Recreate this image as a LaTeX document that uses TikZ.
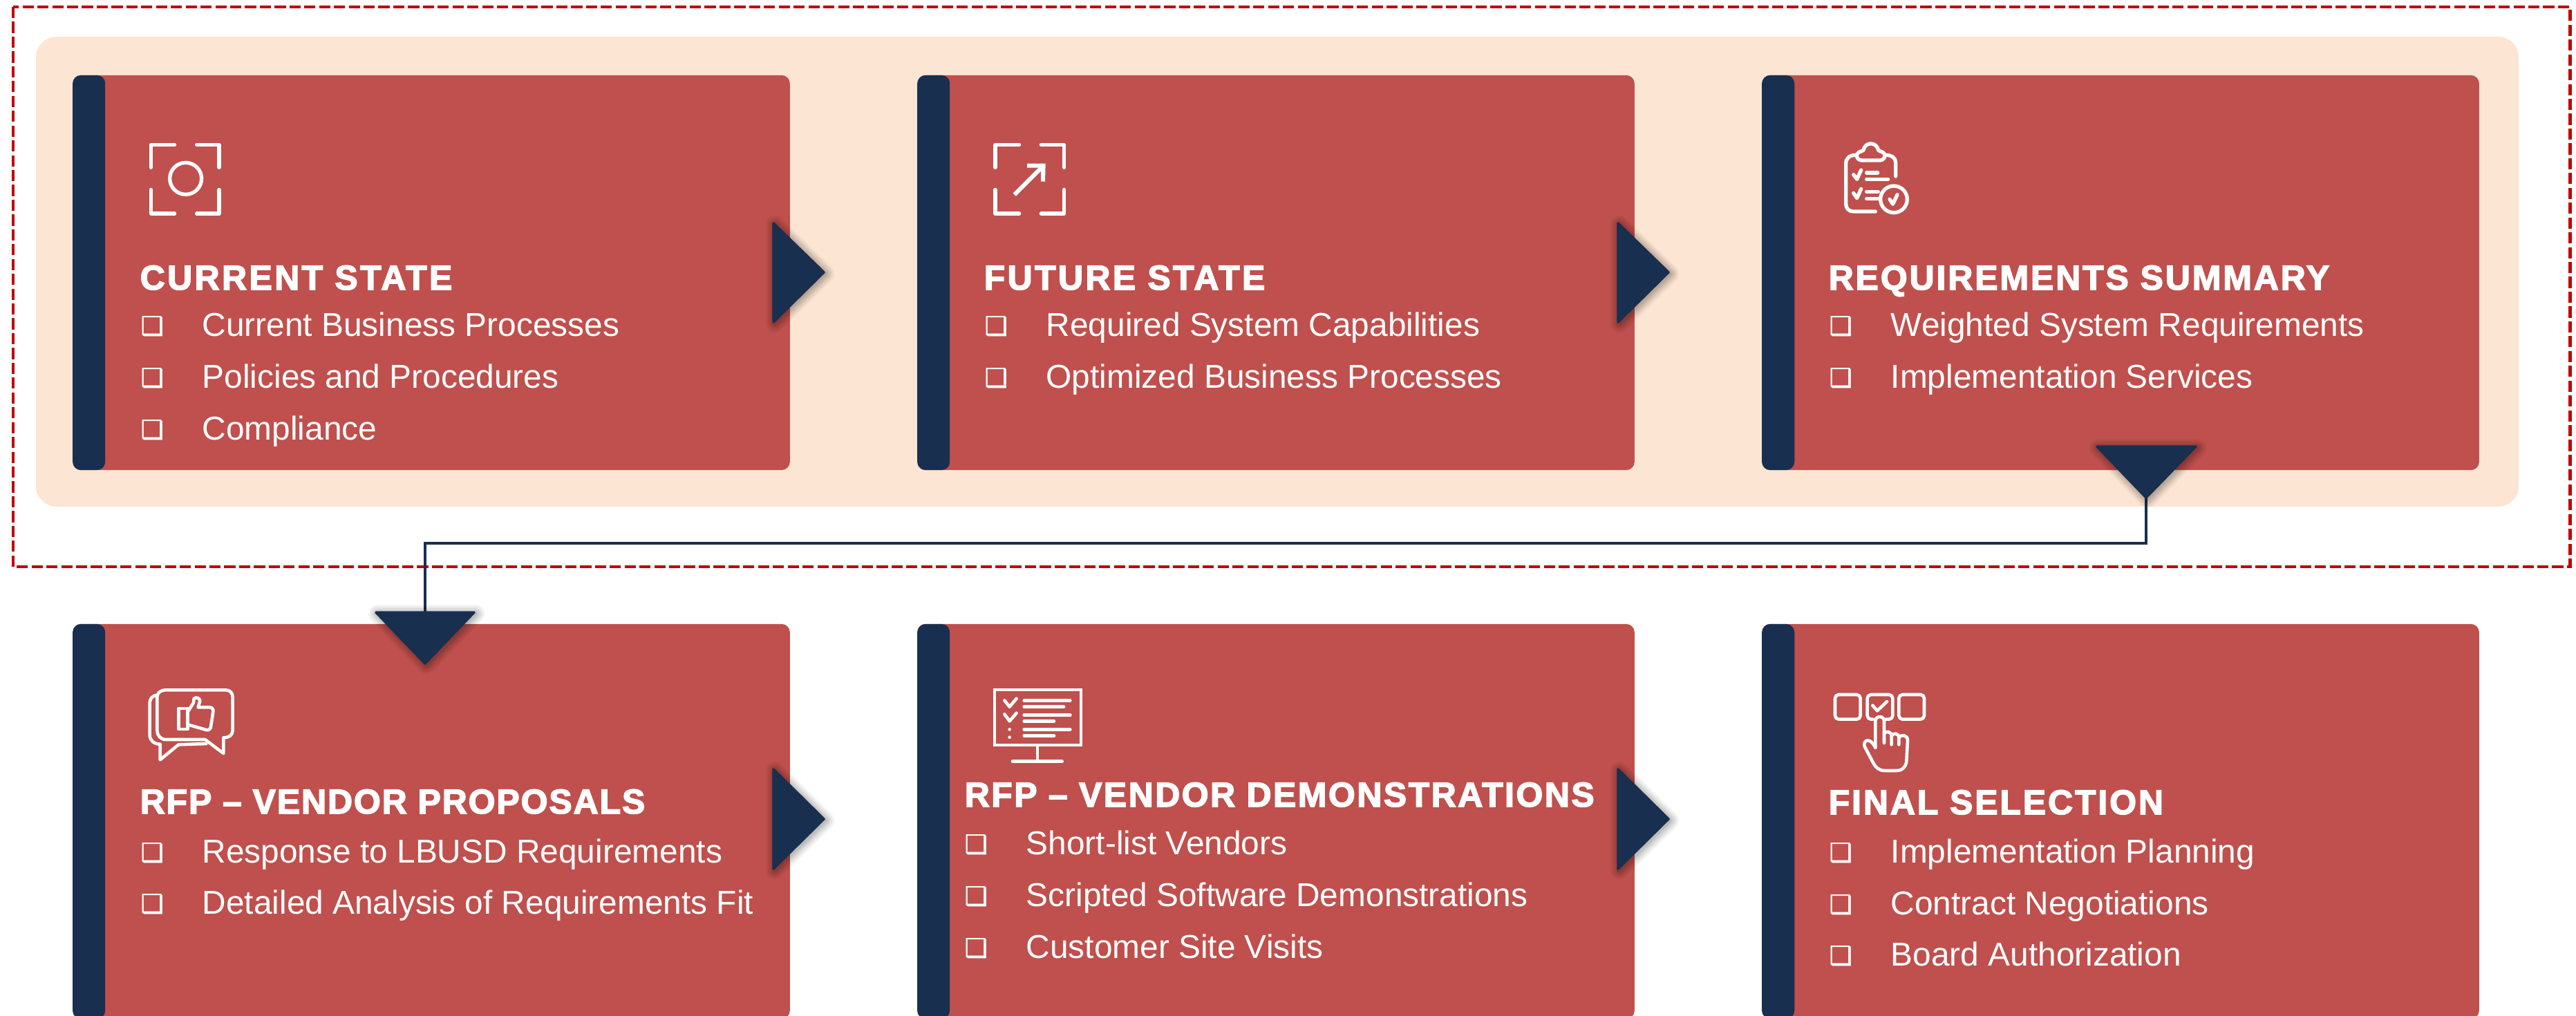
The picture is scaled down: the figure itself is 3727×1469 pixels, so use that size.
\documentclass[tikz,border=0pt]{standalone}
\usepackage{fontspec}
\usepackage{xcolor}
\usepackage{tikz}
\usetikzlibrary{calc,positioning}
\setmainfont{Liberation Sans}
\newfontfamily\headfont[FakeBold=3,LetterSpace=5.8]{Liberation Sans Bold}
\newfontfamily\headtight[FakeBold=3,LetterSpace=3.8]{Liberation Sans Bold}
\newfontfamily\headmid[FakeBold=3,LetterSpace=5]{Liberation Sans Bold}
\newfontfamily\headwide[FakeBold=3,LetterSpace=6.8]{Liberation Sans Bold}
\newfontfamily\markfont[FakeBold=1.2]{DejaVu Sans}
\definecolor{cardred}{HTML}{BF504D}
\definecolor{navy}{HTML}{182F4F}
\definecolor{peach}{HTML}{FDE5D3}
\definecolor{dashred}{HTML}{C00000}
\newcommand{\boxmark}{\makebox[0.89cm][l]{\raisebox{.5pt}{\markfont\fontsize{10.5}{12}\selectfont ❑}}}
\tikzset{
	card/.style={fill=cardred,rounded corners=3.4pt,minimum width=10.37cm,minimum height=5.71cm,inner sep=0,
		path picture={\fill[navy] (path picture bounding box.south west) rectangle ([xshift=0.47cm]path picture bounding box.north west);}},
	headtext/.style={anchor=base west,inner sep=0,text=white,font=#1\fontsize{14.2}{16}\selectfont},
	headtext/.default=\headfont,
	itemtext/.style={anchor=base west,inner sep=0,text=white,font=\fontsize{13.6}{16}\selectfont},
	softshade/.style={
		preaction={draw=black,opacity=.04,line join=round,line width=7.5pt,transform canvas={shift={(.6pt,-.6pt)}}},
		preaction={draw=black,opacity=.05,line join=round,line width=6pt,transform canvas={shift={(.6pt,-.6pt)}}},
		preaction={draw=black,opacity=.06,line join=round,line width=4.5pt,transform canvas={shift={(.6pt,-.6pt)}}},
		preaction={draw=black,opacity=.07,line join=round,line width=3pt,transform canvas={shift={(.6pt,-.6pt)}}},
		preaction={draw=black,opacity=.08,line join=round,line width=1.5pt,transform canvas={shift={(.6pt,-.6pt)}}}},
	pointer/.style={softshade,fill=navy,draw=navy,line width=1pt,line join=round},
	link/.style={draw=navy,line width=.95pt},
	iconline/.style={draw=white,line width=1.5pt,line cap=round,line join=round},
	iconthin/.style={draw=white,line width=1.3pt,line cap=round,line join=round},
	icon/.style={shift={#1},scale=0.3333}
}

\begin{document}
\begin{tikzpicture}[x=0.01cm,y=-0.01cm]
	\clip (0,0) rectangle (3727,1469);
	
	% backgrounds
	\fill[peach] (52,53) [rounded corners=8.5pt] rectangle (3644,733);
	\draw[dashred,line width=1.4pt,dash pattern=on 4.6pt off 1.5pt] (19,10) rectangle (3718,820);
	
	% top row
	\node (current) [card] at (624,394.5) {};
	\node (future) [card] at (1846,394.5) {};
	\node (reqs) [card] at (3068,394.5) {};
	
	% bottom row
	\node (proposals) [card] at (624,1188.5) {};
	\node (demos) [card] at (1846,1188.5) {};
	\node (selection) [card] at (3068,1188.5) {};
	
	\node (currenthead) [headtext=\headwide] at (202,419) {CURRENT STATE};
	\node (current1) [itemtext] at (203,486) {\boxmark Current Business Processes};
	\node (current2) [itemtext] at (203,561) {\boxmark Policies and Procedures};
	\node (current3) [itemtext] at (203,636) {\boxmark Compliance};
	
	\node (futurehead) [headtext=\headwide] at (1423,419) {FUTURE STATE};
	\node (future1) [itemtext] at (1424,486) {\boxmark Required System Capabilities};
	\node (future2) [itemtext] at (1424,561) {\boxmark Optimized Business Processes};
	
	\node (reqshead) [headtext] at (2645,419) {REQUIREMENTS SUMMARY};
	\node (reqs1) [itemtext] at (2646,486) {\boxmark Weighted System Requirements};
	\node (reqs2) [itemtext] at (2646,561) {\boxmark Implementation Services};
	
	\node (proposalshead) [headtext=\headtight] at (202,1177) {RFP – VENDOR PROPOSALS};
	\node (proposals1) [itemtext] at (203,1248) {\boxmark Response to LBUSD Requirements};
	\node (proposals2) [itemtext] at (203,1322) {\boxmark Detailed Analysis of Requirements Fit};
	
	\node (demoshead) [headtext=\headmid] at (1395,1167) {RFP – VENDOR DEMONSTRATIONS};
	\node (demos1) [itemtext] at (1395,1236) {\boxmark Short-list Vendors};
	\node (demos2) [itemtext] at (1395,1311) {\boxmark Scripted Software Demonstrations};
	\node (demos3) [itemtext] at (1395,1386) {\boxmark Customer Site Visits};
	
	\node (selectionhead) [headtext] at (2645,1178) {FINAL SELECTION};
	\node (selection1) [itemtext] at (2646,1248) {\boxmark Implementation Planning};
	\node (selection2) [itemtext] at (2646,1323) {\boxmark Contract Negotiations};
	\node (selection3) [itemtext] at (2646,1397) {\boxmark Board Authorization};
	
	% connector between the rows
	\coordinate (reqstip) at (3105,720);
	\coordinate (proposalsin) at (615,886);
	\draw[link] (reqstip) -- ++(0,66) -| (proposalsin);
	
	% pointers
	\draw[pointer] (1119,323) -- (1192,394) -- (1119,466) -- cycle;
	\draw[pointer] (2341,323) -- (2414,394) -- (2341,466) -- cycle;
	\draw[pointer] (3034,646) -- (3177,646) -- (3105,720) -- cycle;
	\draw[pointer] (544,886) -- (686,886) -- (615,960) -- cycle;
	\draw[pointer] (1119,1113) -- (1192,1185) -- (1119,1257) -- cycle;
	\draw[pointer] (2341,1113) -- (2414,1185) -- (2341,1257) -- cycle;
	
	% current state icon
	\begin{scope}[icon={(180,180)}]
		\draw[iconline] (115,187) -- (115,88) -- (218,88);
		\draw[iconline] (314,88) -- (411,88) -- (411,187);
		\draw[iconline] (115,283) -- (115,387) -- (218,387);
		\draw[iconline] (314,387) -- (411,387) -- (411,283);
		\draw[iconline] (266,235) circle (69);
	\end{scope}
	
	% future state icon
	\begin{scope}[icon={(1400,180)}]
		\draw[iconline] (120,187) -- (120,88) -- (224,88);
		\draw[iconline] (319,88) -- (419,88) -- (419,187);
		\draw[iconline] (120,283) -- (120,387) -- (224,387);
		\draw[iconline] (319,387) -- (419,387) -- (419,283);
		\draw[draw=white,line width=1.7pt] (203,305) -- (325,183);
		\fill[white] (258,170) -- (338,170) -- (336,248) -- (318,248) -- (318,188) -- (258,188) -- cycle;
	\end{scope}
	
	% requirements icon
	\begin{scope}[icon={(2630,180)}]
		\draw[iconline] (338,225) -- (338,165) .. controls (338,145) and (320,133) .. (296,133);
		\draw[iconline] (165,133) .. controls (140,133) and (122,145) .. (122,170) -- (122,345) .. controls (122,365) and (135,378) .. (155,378) -- (250,378);
		\draw[iconline] (190,156) -- (270,156) .. controls (285,156) and (295,140) .. (290,130) .. controls (285,118) and (270,118) .. (263,112) .. controls (255,74) and (205,74) .. (198,112) .. controls (190,118) and (175,118) .. (170,130) .. controls (165,140) and (175,156) .. (190,156);
		\draw[iconline] (155,218) -- (170,238) -- (188,198);
		\draw[iconline] (155,298) -- (170,320) -- (188,280);
		\draw[iconline] (212,210) -- (260,210);
		\draw[iconline] (212,238) -- (305,238);
		\draw[iconline] (212,292) -- (262,292);
		\draw[iconline] (212,322) -- (268,322);
		\draw[iconline] (330,325) circle (58);
		\draw[iconline] (312,325) -- (326,346) -- (345,305);
	\end{scope}
	
	% proposals icon
	\begin{scope}[icon={(190,980)}]
		\draw[iconthin] (150,55) -- (410,55) .. controls (430,55) and (440,70) .. (440,85) -- (440,230) .. controls (440,250) and (425,262) .. (400,262) -- (400,330) -- (320,270) -- (150,270) .. controls (125,270) and (112,250) .. (112,230) -- (112,85) .. controls (112,70) and (125,55) .. (150,55);
		\draw[iconthin] (105,78) .. controls (90,82) and (80,95) .. (80,110) -- (80,250) .. controls (80,275) and (100,290) .. (125,290) -- (125,358) -- (205,292) -- (325,288);
		\draw[iconthin] (205,135) -- (245,135) -- (245,225) -- (205,225) -- cycle;
		\draw[iconthin] (245,150) -- (270,110) -- (272,92) .. controls (280,84) and (298,90) .. (298,102) -- (290,130) -- (340,130) .. controls (352,130) and (357,140) .. (355,150) -- (345,215) .. controls (343,226) and (335,230) .. (325,228) -- (245,205);
	\end{scope}
	
	% demonstrations icon
	\begin{scope}[icon={(1410,980)}]
		\draw[draw=white,line width=1.2pt] (88,55) rectangle (462,295);
		\draw[draw=white,line width=1.2pt] (272,295) -- (272,365);
		\draw[iconthin] (165,365) -- (380,365);
		\draw[iconthin] (130,100) -- (152,128) -- (182,92);
		\draw[iconthin] (130,160) -- (152,190) -- (182,155);
		\fill[white] (152,226) circle (7);
		\fill[white] (152,260) circle (7);
		\draw[iconthin] (215,100) -- (415,100);
		\draw[iconthin] (215,128) -- (387,128);
		\draw[iconthin] (215,163) -- (415,163);
		\draw[iconthin] (215,190) -- (345,190);
		\draw[iconthin] (215,226) -- (415,226);
		\draw[iconthin] (215,254) -- (345,254);
	\end{scope}
	
	% selection icon
	\begin{scope}[icon={(2630,980)}]
		\draw[iconthin,rounded corners=1.5pt] (75,75) rectangle (185,182);
		\draw[iconthin,rounded corners=1.5pt] (352,75) rectangle (462,182);
		\draw[iconthin,rounded corners=1.5pt] (240,182) -- (215,182) -- (215,75) -- (325,75) -- (325,182) -- (296,182);
		\draw[iconthin] (238,122) -- (258,145) -- (300,105);
		\draw[iconthin] (250,305) -- (250,190) .. controls (250,165) and (288,165) .. (288,190) -- (288,285);
		\draw[iconthin] (288,245) .. controls (295,230) and (320,235) .. (320,255) -- (320,292);
		\draw[iconthin] (320,255) .. controls (325,240) and (352,240) .. (352,262) -- (352,292);
		\draw[iconthin] (352,262) .. controls (360,245) and (392,250) .. (390,275) -- (385,365) .. controls (382,390) and (365,405) .. (345,405) -- (290,405) .. controls (265,405) and (250,390) .. (240,370) -- (203,300) .. controls (195,275) and (225,255) .. (250,305);
	\end{scope}
\end{tikzpicture}
\end{document}
